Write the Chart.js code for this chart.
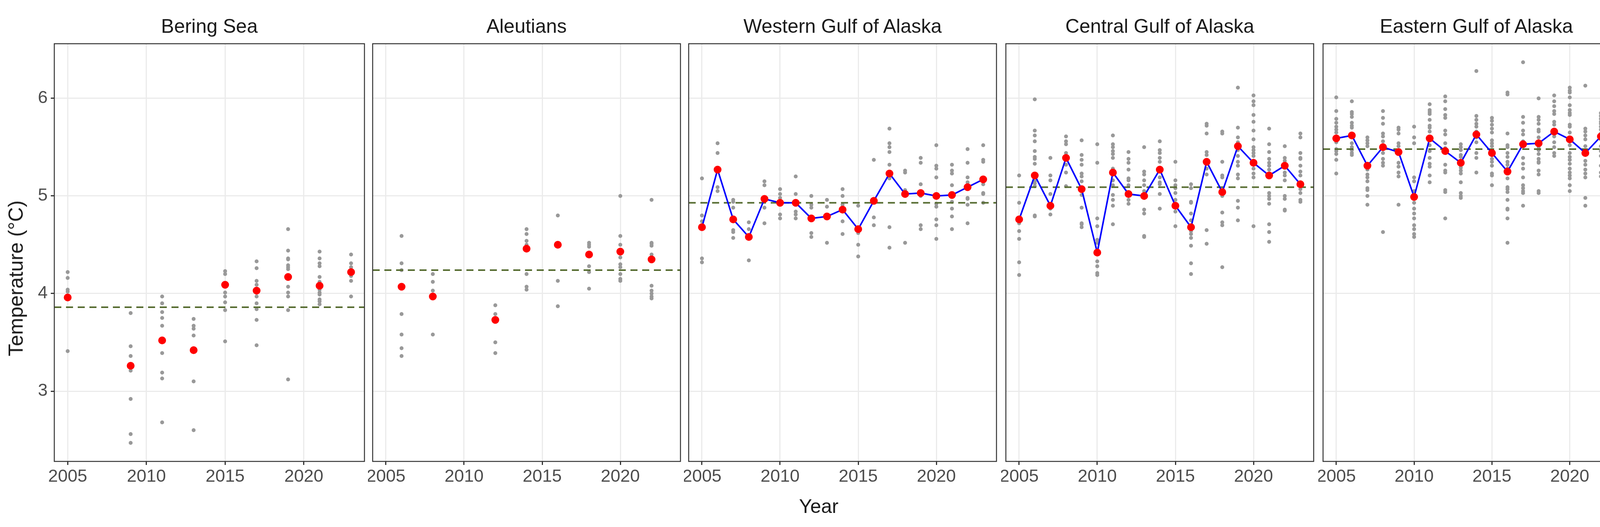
<!DOCTYPE html>
<html><head><meta charset="utf-8">
<script src="https://cdn.jsdelivr.net/npm/chart.js@4.4.1/dist/chart.umd.min.js"></script>
<style>
body{margin:0;background:#fff;width:4200px;height:1350px;position:relative;overflow:hidden;font-family:Arial,"Liberation Sans",sans-serif;}
.pan{position:absolute;top:100px;height:1162px;}
.ttl{position:absolute;top:38px;font-size:50px;color:#1a1a1a;text-align:center;}
</style></head><body>
<div id="root"></div>
<div style="position:absolute;left:2096px;top:1268px;transform:translateX(-50%);font-size:50px;color:#1a1a1a">Year</div>
<div style="position:absolute;left:40px;top:713px;transform:translate(-50%,-50%) rotate(-90deg);font-size:52px;color:#1a1a1a;white-space:nowrap">Temperature (°C)</div>
<script>
// ---- data ----
const panelNames = ["Bering Sea","Aleutians","Western Gulf of Alaska","Central Gulf of Alaska","Eastern Gulf of Alaska"];
const xTicks = [2005,2010,2015,2020];
const yTicks = [3,4,5,6];

const beringYears = [2005,2009,2011,2013,2015,2017,2019,2021,2023];
const beringMeans = [3.96,3.26,3.52,3.42,4.09,4.03,4.17,4.08,4.22];
const beringBaseline = 3.86;
const beringSamples = [
 [4.22,4.16,4.04,4.02,3.41],
 [3.80,3.46,3.36,3.21,2.92,2.56,2.47],
 [3.97,3.90,3.81,3.75,3.67,3.39,3.19,3.13,2.68],
 [3.74,3.67,3.64,3.57,3.10,2.60],
 [4.23,4.20,4.01,3.97,3.91,3.83,3.51],
 [4.33,4.26,4.13,4.09,3.97,3.90,3.84,3.73,3.47],
 [4.66,4.44,4.36,4.35,4.29,4.27,4.25,4.15,4.07,4.01,3.97,3.83,3.12],
 [4.43,4.36,4.31,4.28,4.17,4.12,4.04,4.01,3.99,3.94,3.92,3.89],
 [4.40,4.31,4.27,4.18,4.13,3.97]
];

const aleutYears = [2006,2008,2012,2014,2016,2018,2020,2022];
const aleutMeans = [4.07,3.97,3.73,4.46,4.50,4.40,4.43,4.35];
const aleutBaseline = 4.24;
const aleutSamples = [
 [4.59,4.31,4.24,3.79,3.58,3.44,3.36],
 [4.20,4.12,4.03,3.58],
 [3.88,3.79,3.50,3.39],
 [4.66,4.61,4.54,4.50,4.20,4.07,4.04],
 [4.80,4.13,3.87],
 [4.52,4.50,4.48,4.28,4.22,4.05],
 [5.00,4.59,4.50,4.37,4.30,4.27,4.20,4.15,4.13],
 [4.96,4.52,4.51,4.49,4.40,4.08,4.03,4.00,3.97,3.95]
];

const allYears = [2005,2006,2007,2008,2009,2010,2011,2012,2013,2014,2015,2016,2017,2018,2019,2020,2021,2022,2023];

const westMeans = [4.68,5.27,4.76,4.58,4.97,4.93,4.93,4.77,4.79,4.86,4.66,4.95,5.23,5.02,5.03,5.00,5.01,5.09,5.17];
const westBaseline = 4.93;
const westSamples = [
 [5.18,4.80,4.74,4.36,4.32],
 [5.54,5.44,5.09,5.05],
 [4.96,4.94,4.88,4.65,4.63,4.57],
 [4.73,4.66,4.34],
 [5.15,5.11,4.88,4.72],
 [5.07,5.02,4.98,4.81,4.77],
 [5.20,5.02,4.84,4.81,4.77],
 [5.00,4.91,4.88,4.62,4.58],
 [4.96,4.89,4.52],
 [5.07,5.00,4.91,4.74,4.61],
 [4.90,4.62,4.50,4.38],
 [5.37,4.78,4.70],
 [5.69,5.54,5.50,5.45,5.32,5.18,4.68,4.47],
 [5.26,5.24,5.06,4.52],
 [5.39,5.34,5.12,5.00,4.70,4.66],
 [5.52,5.31,5.28,5.19,4.92,4.89,4.76,4.70,4.56],
 [5.32,5.26,5.23,5.11,4.94,4.87,4.79,4.66],
 [5.48,5.34,5.19,5.14,4.98,4.97,4.91,4.72],
 [5.52,5.37,5.35,5.12,5.03,5.02,4.93]
];

const centMeans = [4.76,5.21,4.90,5.39,5.07,4.42,5.24,5.02,5.00,5.27,4.90,4.68,5.35,5.04,5.51,5.34,5.21,5.31,5.12];
const centBaseline = 5.09;
const centSamples = [
 [5.21,4.93,4.72,4.64,4.56,4.32,4.19],
 [5.99,5.67,5.62,5.56,5.46,5.40,5.38,5.33,5.15,5.13,5.10,4.80,4.79],
 [5.39,5.21,5.16,5.02,4.92,4.87,4.81],
 [5.61,5.56,5.53,5.44,5.32,5.24,5.10],
 [5.57,5.42,5.37,5.32,5.23,5.20,5.15,5.01,4.88,4.72,4.71,4.68],
 [5.53,5.34,4.77,4.69,4.55,4.52,4.33,4.28,4.21,4.19],
 [5.62,5.53,5.50,5.46,5.43,5.39,5.28,5.16,5.11,5.01,4.96,4.90,4.71],
 [5.45,5.38,5.34,5.27,5.18,5.16,5.11,4.96,4.92],
 [5.50,5.25,5.22,5.16,5.11,5.05,4.98,4.86,4.82,4.59,4.58],
 [5.56,5.47,5.44,5.39,5.35,5.19,5.14,5.12,5.02,4.87],
 [5.35,5.16,5.11,5.08,5.03,4.96,4.84,4.69],
 [5.12,5.08,4.94,4.93,4.82,4.75,4.64,4.61,4.57,4.49,4.31,4.20],
 [5.74,5.72,5.64,5.45,5.42,5.28,5.22,4.65,4.51],
 [5.66,5.64,5.35,5.21,5.19,5.00,4.83,4.73,4.70,4.27],
 [6.11,5.70,5.60,5.55,5.47,5.41,5.35,5.31,5.22,5.18,4.95,4.88,4.75],
 [6.03,5.97,5.93,5.83,5.76,5.67,5.58,5.50,5.47,5.44,5.41,5.36,5.28,5.23,5.19,4.69],
 [5.69,5.53,5.45,5.38,5.34,5.31,5.27,5.21,5.03,5.00,4.97,4.92,4.71,4.63,4.53],
 [5.51,5.39,5.36,5.29,5.24,5.21,5.16,5.00,4.97,4.86,4.85],
 [5.64,5.60,5.44,5.39,5.38,5.31,5.25,5.21,5.07,5.03,4.96,4.94]
];

const eastMeans = [5.59,5.62,5.31,5.50,5.45,4.99,5.59,5.46,5.34,5.63,5.44,5.25,5.53,5.54,5.66,5.58,5.44,5.61,5.47];
const eastBaseline = 5.48;
const eastSamples = [
 [6.01,5.87,5.79,5.75,5.71,5.68,5.65,5.58,5.55,5.48,5.46,5.43,5.37,5.23],
 [5.97,5.86,5.84,5.81,5.75,5.72,5.70,5.54,5.50,5.47,5.44,5.42],
 [5.60,5.57,5.54,5.51,5.27,5.22,5.19,5.15,5.08,5.06,5.00,4.91],
 [5.87,5.80,5.74,5.64,5.61,5.56,5.44,5.38,5.34,5.31,4.63],
 [5.70,5.68,5.64,5.54,5.51,5.34,5.30,5.24,5.20,4.91],
 [5.71,5.60,5.54,5.19,5.15,5.05,4.93,4.87,4.82,4.77,4.70,4.66,4.61,4.58],
 [5.94,5.88,5.86,5.84,5.78,5.72,5.70,5.66,5.52,5.46,5.39,5.33,5.30,5.21,5.14],
 [6.02,5.97,5.89,5.83,5.80,5.67,5.63,5.54,5.49,5.32,5.26,5.24,5.06,5.04,4.77],
 [5.53,5.50,5.47,5.42,5.40,5.31,5.29,5.26,5.23,5.14,5.03,5.00,4.98],
 [6.28,5.82,5.78,5.74,5.71,5.66,5.63,5.60,5.55,5.44,5.39,5.24],
 [5.80,5.77,5.73,5.69,5.65,5.57,5.54,5.51,5.42,5.38,5.35,5.31,5.23,5.21,5.11],
 [6.06,6.04,5.64,5.52,5.50,5.44,5.40,5.35,5.32,5.28,5.18,5.09,5.07,5.04,4.96,4.87,4.86,4.77,4.52],
 [6.37,5.81,5.75,5.67,5.63,5.56,5.51,5.39,5.33,5.28,5.19,5.11,5.08,5.05,5.03,4.90],
 [6.00,5.81,5.78,5.74,5.68,5.66,5.60,5.50,5.47,5.43,5.38,5.35,5.34,5.26,5.22,5.05,5.03],
 [6.03,5.97,5.92,5.87,5.84,5.76,5.73,5.68,5.61,5.55,5.50,5.44,5.41],
 [6.11,6.08,6.06,6.01,5.93,5.88,5.85,5.83,5.73,5.71,5.65,5.52,5.44,5.40,5.37,5.33,5.28,5.24,5.21,5.18,5.11,5.05],
 [6.13,5.69,5.66,5.62,5.58,5.51,5.44,5.36,5.32,5.27,5.23,5.19,4.98,4.90],
 [5.85,5.82,5.79,5.76,5.74,5.71,5.68,5.64,5.58,5.51,5.46,5.41,5.31,5.24,5.20],
 [5.88,5.81,5.78,5.74,5.64,5.62,5.54,5.44,5.40,5.37,5.33,5.30,5.27,5.16,5.14,5.09,5.07]
];

// ---- layout ----
const X_MIN = 2004.15, X_MAX = 2023.85, Y_MIN = 2.28, Y_MAX = 6.56;
const plotLefts = [139, 954, 1763, 2575, 3387];
const plotRights = [933, 1742, 2551, 3363, 4172];
const panels = [
 {years: beringYears, means: beringMeans, samples: beringSamples, base: beringBaseline, line:false},
 {years: aleutYears, means: aleutMeans, samples: aleutSamples, base: aleutBaseline, line:false},
 {years: allYears, means: westMeans, samples: westSamples, base: westBaseline, line:true},
 {years: allYears, means: centMeans, samples: centSamples, base: centBaseline, line:true},
 {years: allYears, means: eastMeans, samples: eastSamples, base: eastBaseline, line:true}
];

const borderPlugin = {
 id:'panelBorder',
 afterDraw(chart){
  const a = chart.chartArea, c = chart.ctx;
  c.save(); c.strokeStyle='#333333'; c.lineWidth=2.5;
  c.strokeRect(a.left, a.top, a.right-a.left, a.bottom-a.top);
  c.restore();
 }
};

const root = document.getElementById('root');
panels.forEach((p, i) => {
 const first = i === 0;
 const padL = first ? 0 : 12;
 const yW = first ? 139 : 0;
 const left = plotLefts[i] - yW - padL;
 const width = plotRights[i] - left + 12;
 const t = document.createElement('div');
 t.className='ttl'; t.textContent = panelNames[i];
 t.style.left = plotLefts[i]+'px'; t.style.width = (plotRights[i]-plotLefts[i])+'px';
 root.appendChild(t);
 const d = document.createElement('div');
 d.className='pan'; d.style.left = left+'px'; d.style.width = width+'px';
 const cv = document.createElement('canvas'); d.appendChild(cv); root.appendChild(d);

 const gray = [];
 p.years.forEach((yr, k) => p.samples[k].forEach(v => gray.push({x: yr, y: v})));
 const red = p.years.map((yr, k) => ({x: yr, y: p.means[k]}));
 const datasets = [
  {data: red, backgroundColor:'#ff0000', borderColor:'#ff0000', pointRadius:10, pointBorderWidth:0, showLine:false, order:0},
 ];
 if (p.line) datasets.push({data: red, borderColor:'#0000ff', borderWidth:4, pointRadius:0, showLine:true, order:1});
 datasets.push({data:[{x:X_MIN,y:p.base},{x:X_MAX,y:p.base}], borderColor:'#556b2f', borderWidth:4, borderDash:[18,12], pointRadius:0, showLine:true, order:2});
 datasets.push({data: gray, backgroundColor:'#999999', borderColor:'#999999', pointRadius:5, pointBorderWidth:0, showLine:false, order:3});

 new Chart(cv, {
  type:'scatter',
  data:{datasets},
  plugins:[borderPlugin],
  options:{
   responsive:true, maintainAspectRatio:false, animation:false, devicePixelRatio:1,
   layout:{padding:{left:padL, right:12, top:12, bottom:0}, autoPadding:false},
   plugins:{legend:{display:false}, tooltip:{enabled:false}},
   scales:{
    x:{type:'linear', min:X_MIN, max:X_MAX,
       afterBuildTicks(s){ s.ticks = xTicks.map(v=>({value:v})); },
       afterFit(s){ s.height = 80; s.paddingLeft = 0; s.paddingRight = 0; },
       border:{display:false},
       grid:{color:'#ebebeb', lineWidth:3, tickColor:'#333333', tickLength:9, tickWidth:3},
       ticks:{font:{size:45, family:'Arial, Liberation Sans'}, color:'#4d4d4d', padding:4, maxRotation:0, callback:v=>String(v)}},
    y:{type:'linear', min:Y_MIN, max:Y_MAX,
       afterBuildTicks(s){ s.ticks = yTicks.map(v=>({value:v})); },
       afterFit(s){ s.width = yW; s.paddingTop = 0; s.paddingBottom = 0; },
       border:{display:false},
       grid:{color:'#ebebeb', lineWidth:3, tickColor:'#333333', tickLength: first?9:0, tickWidth:3, drawTicks:first},
       ticks:{display:first, font:{size:45, family:'Arial, Liberation Sans'}, color:'#4d4d4d', padding:8, callback:v=>String(v)}}
   }
  }
 });
});
</script>
</body></html>
